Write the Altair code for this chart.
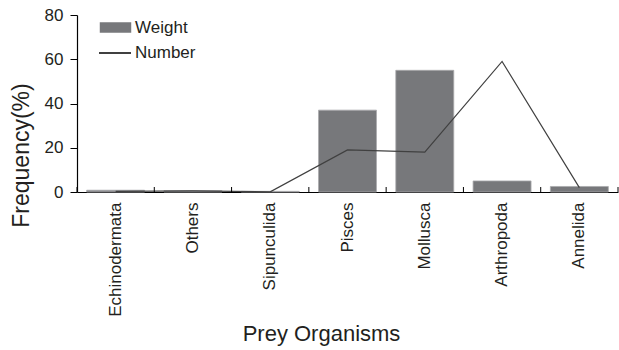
import altair as alt
import pandas as pd

# Prey groups in display order, with diet composition (%) by weight and by number
organisms = ["Echinodermata", "Others", "Sipunculida", "Pisces", "Mollusca", "Arthropoda", "Annelida"]
weight_pct = [0.8, 0.6, 0.3, 37, 55, 5, 2.5]
number_pct = [0.3, 0.5, 0.1, 19, 18, 59, 2]

df = pd.DataFrame({"organism": organisms, "weight": weight_pct, "number": number_pct})

FONT = "Liberation Sans"
TEXT = "#231f20"
PLOT_W, PLOT_H = 541, 177

x_scale = alt.Scale(domain=organisms, paddingInner=0, paddingOuter=0)
y_scale = alt.Scale(domain=[0, 80], nice=False)

x_axis = alt.Axis(
    title="Prey Organisms",
    labelAngle=-90,
    labelPadding=10,
    labelFontSize=17,
    labelFont=FONT,
    labelColor=TEXT,
    ticks=False,
    domainColor="black",
    domainWidth=1.2,
    titleFont=FONT,
    titleFontSize=22,
    titleFontWeight="normal",
    titleColor=TEXT,
    titleX=244,
    titleY=148,
    titleAlign="center",
    titleBaseline="alphabetic",
)

y_axis = alt.Axis(
    title="Frequency(%)",
    values=[0, 20, 40, 60, 80],
    grid=False,
    tickSize=7,
    tickColor="black",
    domainColor="black",
    domainWidth=1.2,
    labelFontSize=17,
    labelFont=FONT,
    labelColor=TEXT,
    labelPadding=7,
    titleFont=FONT,
    titleFontSize=23,
    titleFontWeight="normal",
    titleColor=TEXT,
    titleX=-56,
    titleY=140,
    titleAngle=-90,
    titleAlign="center",
    titleBaseline="middle",
)

x_enc = alt.X("organism:N", sort=organisms, scale=x_scale, axis=x_axis)

bars = (
    alt.Chart(df)
    .transform_calculate(series="'Weight'")
    .mark_bar(color="#77787b", stroke="#a9aaac", strokeWidth=0.8, width=alt.RelativeBandSize(0.75))
    .encode(
        x=x_enc,
        y=alt.Y("weight:Q", scale=y_scale, axis=y_axis),
        color=alt.Color(
            "series:N",
            scale=alt.Scale(domain=["Weight"], range=["#77787b"]),
            legend=alt.Legend(
                title=None,
                orient="none",
                legendX=28,
                legendY=2,
                padding=0,
                symbolType="M-1.5,-0.5H1.5V0.5H-1.5Z",
                symbolSize=440,
                symbolStrokeWidth=0,
                labelOffset=9,
                labelFontSize=17,
                labelFont=FONT,
                labelColor=TEXT,
            ),
        ),
    )
)

line = (
    alt.Chart(df)
    .transform_calculate(series2="'Number'")
    .mark_line(strokeWidth=1.2)
    .encode(
        x=x_enc,
        y=alt.Y("number:Q", scale=y_scale, axis=y_axis),
        stroke=alt.Stroke(
            "series2:N",
            scale=alt.Scale(domain=["Number"], range=["#404040"]),
            legend=alt.Legend(
                title=None,
                orient="none",
                legendX=21,
                legendY=21,
                padding=0,
                symbolType="stroke",
                symbolSize=1024,
                symbolStrokeWidth=2,
                labelOffset=3,
                labelFontSize=17,
                labelFont=FONT,
                labelColor=TEXT,
            ),
        ),
    )
)

# category boundary ticks, pointing up into the plot from the baseline
left_ticks = (
    alt.Chart(df)
    .mark_rule(color="black", strokeWidth=1)
    .encode(
        x=alt.X("organism:N", sort=organisms, scale=x_scale, bandPosition=0, axis=x_axis),
        y=alt.value(PLOT_H),
        y2=alt.value(PLOT_H - 5),
    )
)
end_tick = (
    alt.Chart(df.tail(1))
    .mark_rule(color="black", strokeWidth=1)
    .encode(
        x=alt.X("organism:N", sort=organisms, scale=x_scale, bandPosition=1, axis=x_axis),
        y=alt.value(PLOT_H),
        y2=alt.value(PLOT_H - 5),
    )
)

chart = (
    alt.layer(bars, line, left_ticks, end_tick)
    .properties(
        width=PLOT_W,
        height=PLOT_H,
        autosize=alt.AutoSizeParams(type="none"),
        padding={"left": 77, "top": 15, "right": 1, "bottom": 158},
        background="white",
    )
    .configure_view(strokeWidth=0)
)

chart.save("out.html", embed_options={"renderer": "svg", "actions": False})
